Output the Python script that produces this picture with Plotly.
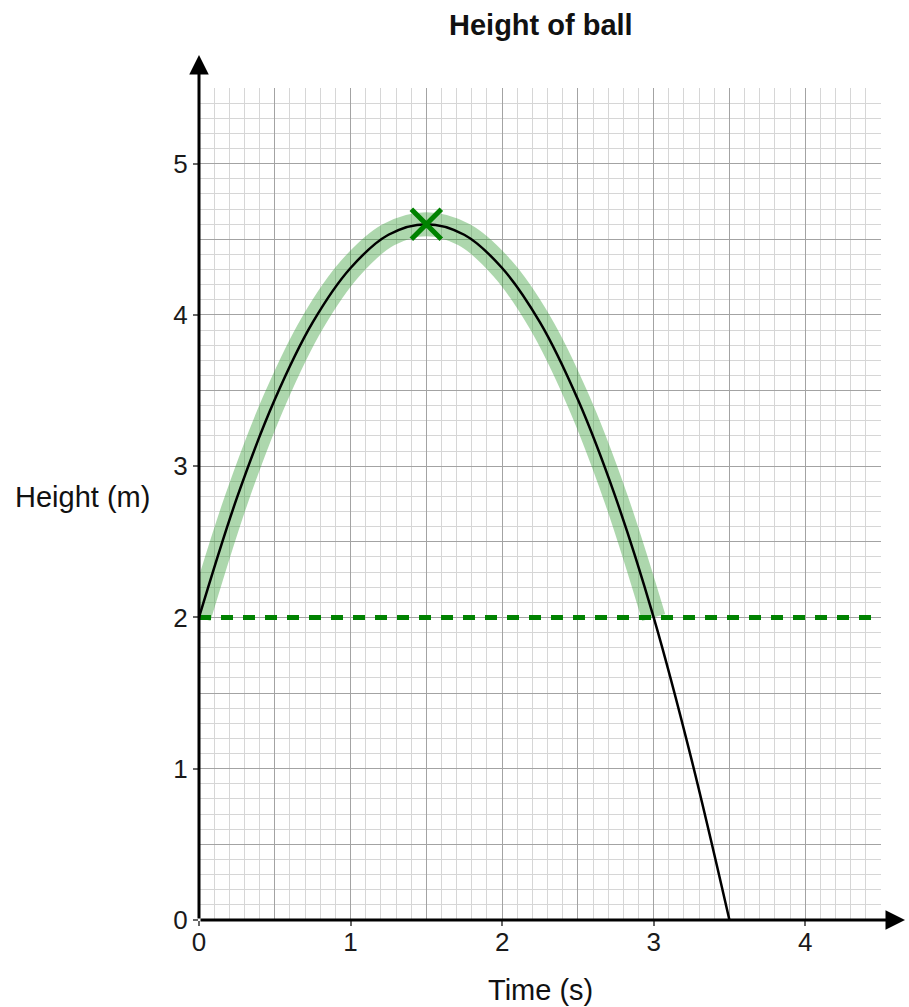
import plotly.graph_objects as go

# Height of a thrown ball, read at quarter-second steps
time_s = [0, 0.25, 0.5, 0.75, 1.0, 1.25, 1.5, 1.75, 2.0, 2.25, 2.5, 2.75, 3.0, 3.25, 3.5]
height_m = [2.0, 2.79, 3.44, 3.95, 4.31, 4.53, 4.6, 4.53, 4.31, 3.95, 3.44, 2.79, 2.0, 1.06, 0.0]

# Section of the flight above the release height (highlighted)
above_t = time_s[:13]
above_h = height_m[:13]

peak_t = [1.5]
peak_h = [4.6]

release_height = 2.0
x_range = [0, 4.5]
y_range = [0, 5.5]
x_ticks = [0, 1, 2, 3, 4]
y_ticks = [0, 1, 2, 3, 4, 5]

FONT = "Liberation Sans, Arial, sans-serif"
GREEN = "rgb(0,130,0)"

fig = go.Figure()

# highlighted band over the part above release height
fig.add_trace(go.Scatter(
    x=above_t, y=above_h, mode="lines", line_shape="spline",
    line=dict(color="rgba(60,160,60,0.42)", width=24),
    hoverinfo="skip", showlegend=False))

# release height reference line
fig.add_trace(go.Scatter(
    x=x_range, y=[release_height, release_height], mode="lines",
    line=dict(color=GREEN, width=5, dash="12px,10px"),
    hoverinfo="skip", showlegend=False))

# trajectory
fig.add_trace(go.Scatter(
    x=time_s, y=height_m, mode="lines", line_shape="spline",
    line=dict(color="black", width=2.5), showlegend=False))

# maximum point
fig.add_trace(go.Scatter(
    x=peak_t, y=peak_h, mode="markers",
    marker=dict(symbol="x-thin", size=30, line=dict(color=GREEN, width=5)),
    showlegend=False))

# invisible trace that carries the labelled overlay axes
fig.add_trace(go.Scatter(
    x=[0], y=[0], xaxis="x2", yaxis="y2", mode="markers",
    marker=dict(opacity=0), hoverinfo="skip", showlegend=False))

grid_axis = dict(
    dtick=0.5, tick0=0, showgrid=True, gridcolor="#a3a3a3", gridwidth=1.3,
    showticklabels=False, ticks="", zeroline=False, showline=False,
    minor=dict(dtick=0.1, tick0=0, showgrid=True, gridcolor="#d6d6d6", gridwidth=1),
)
label_axis = dict(
    showgrid=False, zeroline=False, showline=False, ticks="outside",
    ticklen=5, tickwidth=1.5, tickcolor="#666",
    tickfont=dict(family=FONT, size=26, color="#1a1a1a"),
)

fig.update_layout(
    width=909, height=1007,
    margin=dict(l=199, r=28, t=88, b=87),
    paper_bgcolor="white", plot_bgcolor="white",
    xaxis=dict(range=x_range, **grid_axis),
    yaxis=dict(range=y_range, **grid_axis),
    xaxis2=dict(range=x_range, overlaying="x", anchor="y2", side="bottom",
                tickvals=x_ticks, ticktext=[str(v) for v in x_ticks],
                ticklabelstandoff=-6, **label_axis),
    yaxis2=dict(range=y_range, overlaying="y", anchor="x2", side="left",
                tickvals=y_ticks, ticktext=[str(v) for v in y_ticks],
                ticklabelstandoff=0, **label_axis),
    annotations=[
        # vertical axis with arrow
        dict(x=0, y=1.0397, xref="paper", yref="paper", ax=0, ay=865,
             showarrow=True, arrowhead=2, arrowsize=1.3, arrowwidth=3,
             arrowcolor="black", text=""),
        # horizontal axis with arrow
        dict(x=1.0352, y=0, xref="paper", yref="paper", ax=-706, ay=0,
             showarrow=True, arrowhead=2, arrowsize=1.3, arrowwidth=3,
             arrowcolor="black", text=""),
        dict(x=541, y=25, text="<b>Height of ball</b>",
             font=dict(family=FONT, size=29, color="#111")),
        dict(x=540, y=990, text="Time (s)",
             font=dict(family=FONT, size=29, color="#111")),
        dict(x=82, y=497, text="Height (m)",
             font=dict(family=FONT, size=29, color="#111")),
    ],
)

# place the text labels by pixel position, converted to paper coordinates
W, H = 909, 1007
L, R, T, B = 199, 28, 88, 87
pw, ph = W - L - R, H - T - B
for ann in fig.layout.annotations[2:]:
    px, py = ann.x, ann.y
    ann.update(x=(px - L) / pw, y=(H - B - py) / ph, xref="paper", yref="paper",
               xanchor="center", yanchor="middle", showarrow=False)

fig.write_html("out.html")
